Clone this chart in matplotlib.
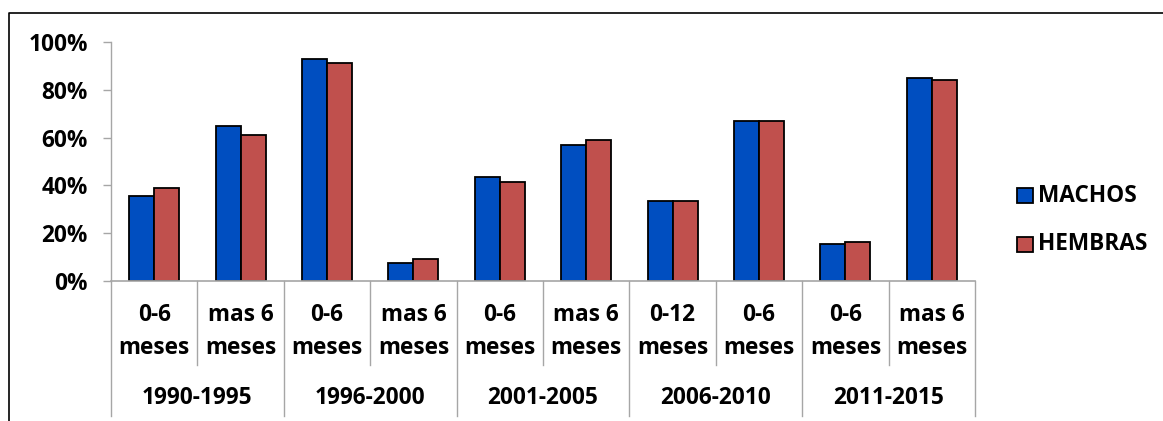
import matplotlib
matplotlib.use("Agg")
import matplotlib.pyplot as plt
from matplotlib.transforms import blended_transform_factory
from matplotlib.patches import Rectangle
from matplotlib.lines import Line2D

categories = ["0-6\nmeses", "mas 6\nmeses", "0-6\nmeses", "mas 6\nmeses", "0-6\nmeses",
              "mas 6\nmeses", "0-12\nmeses", "0-6\nmeses", "0-6\nmeses", "mas 6\nmeses"]
groups = ["1990-1995", "1996-2000", "2001-2005", "2006-2010", "2011-2015"]
machos = [0.355, 0.65, 0.93, 0.074, 0.436, 0.568, 0.333, 0.67, 0.153, 0.849]
hembras = [0.39, 0.612, 0.912, 0.093, 0.414, 0.589, 0.333, 0.67, 0.165, 0.84]
yticks = [0, 0.2, 0.4, 0.6, 0.8, 1.0]
ytick_labels = ["0%", "20%", "40%", "60%", "80%", "100%"]

BLUE = "#004EC0"
RED = "#C0504D"
GRAY = "#A6A6A6"
FONT = "Open Sans"
FS = 16.3

W, H = 1163, 421
fig = plt.figure(figsize=(W / 100, H / 100), dpi=100)

ax_left, ax_right = 111, 975
ax_bottom, ax_top = 281, 42
ax = fig.add_axes([ax_left / W, (H - ax_bottom) / H, (ax_right - ax_left) / W, (ax_bottom - ax_top) / H])

n = len(categories)
x = list(range(n))
bw = 0.29
ax.bar([i - bw / 2 for i in x], machos, width=bw, color=BLUE, edgecolor="black", linewidth=1.3, label="MACHOS", zorder=3)
ax.bar([i + bw / 2 for i in x], hembras, width=bw, color=RED, edgecolor="black", linewidth=1.3, label="HEMBRAS", zorder=3)

ax.set_xlim(-0.5, n - 0.5)
ax.set_ylim(0, 1)
for s in ["top", "right", "bottom"]:
    ax.spines[s].set_visible(False)
ax.spines["left"].set_color(GRAY)
ax.spines["left"].set_linewidth(1.0)
ax.set_yticks(yticks)
ax.set_yticklabels(ytick_labels, fontfamily=FONT, fontweight="bold", fontsize=FS)
ax.tick_params(axis="y", length=5.8, color=GRAY, width=1.0, pad=11)
ax.set_xticks([])

trans = blended_transform_factory(ax.transData, ax.transAxes)
unit = ax_bottom - ax_top  # pixels per axes fraction
def ay(py):
    return (ax_bottom - py) / unit

# baseline
ax.plot([-0.5, n - 0.5], [0, 0], transform=trans, color=GRAY, lw=1.2, clip_on=False, zorder=4)
# separators
for b in range(n + 1):
    xb = b - 0.5
    bottom = ay(416) if b % 2 == 0 else ay(365)
    ax.plot([xb, xb], [0, bottom], transform=trans, color=GRAY, lw=1.0, clip_on=False)
# category labels
for i, lab in enumerate(categories):
    l1, l2 = lab.split("\n")
    ax.text(i, ay(315), l1, transform=trans, ha="center", va="center", fontfamily=FONT, fontweight="bold", fontsize=FS)
    ax.text(i, ay(348), l2, transform=trans, ha="center", va="center", fontfamily=FONT, fontweight="bold", fontsize=FS)
for g, lab in enumerate(groups):
    ax.text(2 * g + 0.5, ay(398), lab, transform=trans, ha="center", va="center", fontfamily=FONT, fontweight="bold", fontsize=FS)

# legend (manual in figure pixels)
def fx(px):
    return px / W
def fy(py):
    return (H - py) / H
for py, col, lab in [(196, BLUE, "MACHOS"), (244.5, RED, "HEMBRAS")]:
    fig.patches.append(Rectangle((fx(1017.5), fy(py + 7.5)), 15 / W, 15 / H, transform=fig.transFigure,
                                 facecolor=col, edgecolor="black", linewidth=1.3))
    fig.text(fx(1038), fy(py), lab, ha="left", va="center", fontfamily=FONT, fontweight="bold", fontsize=FS)

# outer chart border (left and top visible)
fig.add_artist(Line2D([fx(9), fx(9), fx(1163)], [fy(421), fy(12.5), fy(12.5)], transform=fig.transFigure,
                      color="black", lw=1.2))

fig.savefig("out.png", dpi=100)
